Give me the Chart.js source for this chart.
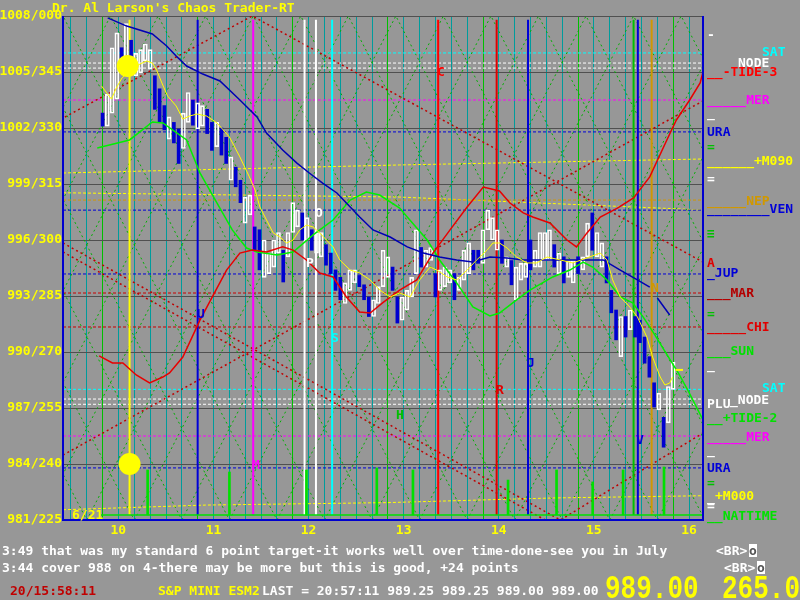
<!DOCTYPE html>
<html>
<head>
<meta charset="utf-8">
<title>Chaos Trader-RT</title>
<script src="https://cdn.jsdelivr.net/npm/chart.js@4.4.1/dist/chart.umd.min.js"></script>
<style>
  html, body { margin: 0; padding: 0; background: #979797; }
  #wrap { position: relative; width: 800px; height: 600px; overflow: hidden; background: #979797; }
  #c { position: absolute; left: 0; top: 0; }
  .t { position: absolute; font: bold 13px "DejaVu Sans Mono", "Liberation Mono", monospace; line-height: 13px; white-space: pre; }
  .big { position: absolute; font: bold 26px "Liberation Mono", "DejaVu Sans Mono", monospace; line-height: 26px; color: #ffff00;
         white-space: pre; transform: scaleY(1.3); transform-origin: 0 0; }
  .box { background: #ffffff; color: #555; }
</style>
</head>
<body>
<div id="wrap">
  <canvas id="c" width="800" height="600"></canvas>
</div>
<script>
// ==================== DATA ====================
const yTickValues = [981, 984, 987, 990, 993, 996, 999, 1002, 1005, 1008];
const yTickLabels = ['981/225', '984/240', '987/255', '990/270', '993/285', '996/300', '999/315', '1002/330', '1005/345', '1008/000'];
const xHours = [10, 11, 12, 13, 14, 15, 16];
const xHourLabels = ['10', '11', '12', '13', '14', '15', '16'];

// 3 minute bars, first one at 9:55
const BAR_START = 9.916;
const BAR_STEP = 0.05;
const barLow = [
  1002.1, 1002.1, 1002.8, 1003.55, 1005.3, 1005.3, 1005.1, 1004.8, 1004.95, 1005.6,
  1005.15, 1003.0, 1002.3, 1001.9, 1001.4, 1001.2, 1000.1, 1000.9, 1002.3, 1002.15,
  1001.95, 1002.1, 1001.7, 1000.8, 1001.0, 1000.55, 1000.1, 999.2, 998.85, 998.0,
  996.9, 997.35, 995.45, 994.4, 994.0, 994.2, 994.55, 995.3, 993.75, 995.1,
  996.4, 996.7, 996.0, 996.0, 995.45, 995.3, 995.1, 994.65, 994.2, 993.3,
  992.8, 992.6, 993.3, 993.7, 993.5, 992.8, 991.9, 991.9, 992.6, 993.5,
  994.0, 993.3, 991.55, 991.7, 992.25, 992.95, 994.2, 994.55, 994.55, 994.9,
  992.95, 993.3, 993.5, 993.7, 992.8, 993.3, 993.85, 994.2, 994.4, 994.75,
  994.75, 996.55, 996.0, 995.45, 994.75, 994.55, 993.6, 992.8, 993.85, 994.0,
  994.4, 994.55, 994.55, 994.9, 994.9, 994.55, 994.2, 993.7, 994.0, 993.7,
  994.2, 994.4, 995.1, 995.45, 995.1, 994.55, 993.7, 992.1, 990.65, 989.75,
  990.8, 991.2, 990.8, 990.5, 989.4, 988.65, 987.05, 986.9, 984.9, 986.2,
  988.0
];
const barHigh = [
  1002.8, 1003.8, 1006.3, 1007.1, 1006.3, 1007.6, 1006.7, 1006.0, 1006.2, 1006.5,
  1006.2, 1004.8, 1004.1, 1003.2, 1002.6, 1002.3, 1001.95, 1002.8, 1003.9, 1003.5,
  1003.35, 1003.2, 1003.0, 1002.3, 1002.3, 1002.0, 1001.5, 1000.45, 999.9, 999.2,
  998.3, 998.4, 996.7, 996.55, 996.0, 995.3, 996.0, 996.4, 995.45, 996.4,
  998.0, 997.6, 997.45, 997.2, 996.55, 996.4, 996.4, 995.75, 995.3, 994.4,
  994.0, 993.7, 994.4, 994.4, 994.1, 993.6, 992.95, 992.8, 993.5, 995.45,
  995.1, 994.55, 992.95, 992.95, 993.3, 994.0, 996.55, 995.6, 995.45, 995.6,
  994.2, 994.4, 994.55, 994.4, 994.2, 994.0, 995.45, 995.85, 995.45, 995.45,
  996.55, 997.6, 997.2, 996.55, 996.0, 995.1, 994.9, 994.55, 994.75, 994.75,
  996.0, 995.45, 996.4, 996.4, 996.55, 995.75, 995.3, 995.1, 994.9, 994.9,
  995.1, 995.1, 996.9, 997.45, 996.4, 995.85, 995.1, 993.3, 992.25, 991.9,
  991.9, 992.25, 991.9, 991.7, 990.8, 989.75, 988.35, 987.8, 986.5, 988.15,
  989.45
];
// 1 = up bar (white), 0 = down bar (blue)
const barUp = [
  0, 1, 1, 1, 0, 1, 0, 1, 1, 1,
  1, 0, 0, 0, 1, 0, 0, 1, 1, 0,
  1, 1, 0, 0, 1, 0, 0, 1, 0, 0,
  1, 1, 0, 0, 1, 1, 1, 1, 0, 1,
  1, 1, 0, 1, 0, 1, 1, 0, 0, 0,
  0, 1, 1, 1, 0, 0, 0, 1, 1, 1,
  1, 0, 0, 1, 1, 1, 1, 0, 1, 1,
  0, 1, 1, 1, 0, 1, 1, 1, 0, 0,
  1, 1, 1, 1, 0, 1, 0, 1, 1, 1,
  0, 1, 1, 1, 1, 0, 1, 0, 1, 1,
  0, 1, 1, 0, 1, 1, 0, 0, 0, 1,
  0, 1, 0, 0, 0, 0, 0, 1, 0, 1,
  1
];

// slow moving average (blue)
const slowMaTimes = [9.97, 10.17, 10.44, 10.59, 10.69, 10.8, 10.97, 11.15, 11.36, 11.54, 11.64, 11.81, 11.96, 12.09, 12.23, 12.38, 12.48,
  12.62, 12.76, 12.94, 13.12, 13.29, 13.46, 13.64, 13.81, 13.99, 14.17, 14.34, 14.65, 15.01, 15.18, 15.36, 15.54, 15.67, 15.69, 15.75, 15.88];
const slowMaValues = [1007.9, 1007.46, 1007.04, 1006.39, 1005.86, 1005.32, 1004.89, 1004.52, 1003.5, 1002.59, 1001.73, 1000.82, 1000.12, 999.59, 999.05, 998.52, 997.98,
  997.23, 996.54, 996.16, 995.63, 995.3, 995.09, 994.93, 994.82, 995.09, 995.04, 994.93, 994.93, 994.93, 994.93, 994.39, 993.86, 993.48, null, 992.89, 991.98];

// fast moving average (yellow)
const fastMaTimes = [9.905, 9.96, 10.01, 10.06, 10.12, 10.2, 10.31, 10.38, 10.44, 10.48, 10.54, 10.6, 10.69, 10.76, 10.83, 10.91, 11.01, 11.12,
  11.25, 11.36, 11.46, 11.52, 11.57, 11.64, 11.71, 11.78, 11.85, 11.92, 11.99, 12.06, 12.13, 12.2, 12.27, 12.34, 12.41, 12.52, 12.62, 12.73,
  12.83, 12.94, 13.04, 13.15, 13.25, 13.36, 13.43, 13.54, 13.64, 13.75, 13.85, 13.96, 14.02, 14.09, 14.17, 14.27, 14.38, 14.48, 14.59, 14.73,
  14.86, 15.01, 15.15, 15.22, 15.28, 15.36, 15.46, 15.54, 15.64, 15.7, 15.78, 15.83, 15.88, 15.91];
const fastMaValues = [1004.25, 1003.88, 1003.55, 1004.14, 1004.68, 1005.05, 1005.43, 1005.59, 1005.48, 1005.16, 1004.41, 1003.71, 1003.18, 1002.48, 1002.64, 1002.75, 1002.64, 1002.27,
  1001.52, 1000.45, 999.38, 998.68, 997.77, 997.07, 996.38, 996.16, 995.84, 996.0, 996.54, 996.8, 996.7, 996.38, 996.0, 995.63, 994.93, 994.39, 994.23, 993.86,
  993.32, 992.95, 993.16, 992.95, 993.86, 994.55, 994.39, 994.02, 993.86, 994.39, 994.93, 995.46, 995.84, 995.84, 995.57, 995.09, 994.77, 994.77, 995.09, 994.93,
  994.77, 995.04, 995.3, 994.93, 993.86, 992.95, 992.41, 991.88, 990.8, 989.73, 988.66, 988.23, 988.34, 988.66];
const lastTickTimes = [15.94, 16.02];
const lastTickValues = [989.04, 989.04];

// green cycle line
const greenTimes = [9.86, 10.2, 10.44, 10.55, 10.8, 10.94, 11.12, 11.28, 11.43, 11.54, 11.75, 11.92, 12.13, 12.34, 12.52, 12.69, 12.83, 13.04,
  13.12, 13.33, 13.46, 13.64, 13.81, 13.99, 14.09, 14.27, 14.41, 14.65, 14.83, 14.97, 15.07, 15.22, 15.36, 15.49, 15.6, 15.71, 15.82, 15.97, 16.07, 16.23];
const greenValues = [1000.93, 1001.36, 1002.32, 1002.27, 1001.36, 999.59, 997.98, 996.54, 995.57, 995.36, 995.2, 995.36, 996.27, 997.07, 998.14, 998.57, 998.41, 997.71,
  997.23, 996.0, 994.93, 993.7, 992.41, 991.93, 992.09, 992.79, 993.32, 994.02, 994.39, 994.82, 994.55, 993.86, 992.95, 992.63, 991.88, 991.02, 990.11, 988.88, 987.96, 986.36];

// red cycle line
const redTimes = [9.88, 10.02, 10.13, 10.27, 10.41, 10.55, 10.62, 10.76, 10.94, 11.07, 11.22, 11.36, 11.49, 11.64, 11.81, 11.92, 12.06, 12.2,
  12.34, 12.48, 12.62, 12.73, 12.86, 13.04, 13.22, 13.39, 13.57, 13.75, 13.92, 14.09, 14.2, 14.34, 14.44, 14.62, 14.8, 14.9, 15.01, 15.15,
  15.33, 15.5, 15.67, 15.85, 15.95, 16.09, 16.2, 16.23];
const redValues = [989.79, 989.41, 989.41, 988.77, 988.34, 988.66, 988.88, 989.73, 991.71, 992.95, 994.39, 995.3, 995.46, 995.36, 995.63, 995.46, 994.93, 994.23,
  994.02, 992.95, 992.14, 992.09, 992.63, 993.32, 993.86, 995.3, 996.54, 997.77, 998.84, 998.63, 997.98, 997.45, 997.23, 996.91, 996.0, 995.63, 996.38, 997.23,
  997.71, 998.25, 999.38, 1001.36, 1002.43, 1003.5, 1004.41, 1005.0];

// planet levels (flat dotted lines)
const levelNames = ['SAT', 'NODE', 'NODE', 'MER', 'URA', 'NEP', 'VEN', 'JUP', 'MAR', 'CHI', 'SAT', 'NODE', 'NODE', 'MER', 'URA'];
const levelValues = [1006.02, 1005.48, 1005.21, 1003.5, 1001.79, 998.14, 997.6, 994.18, 993.16, 991.34, 988.0, 987.48, 987.2, 985.5, 983.79];

// sloping yellow levels
const m090Times = [9.5, 13.04, 16.23];
const m090Values = [999.59, 1000.02, 1000.34];
const m090bTimes = [9.5, 13.04, 16.23];
const m090bValues = [998.53, 998.3, 997.61];
const m000Times = [9.5, 11.0, 12.9, 14.65, 16.23];
const m000Values = [981.55, 981.8, 981.93, 982.18, 982.3];

// red dotted tide lines
const tideATimes = [9.5, 14.73, 16.23];
const tideAValues = [995.84, 981.0, 985.66];
const tideBTimes = [9.5, 14.57];
const tideBValues = [995.36, 981.0];
const tideCTimes = [9.5, 16.23];
const tideCValues = [984.48, 1003.45];
const tideDTimes = [9.52, 11.49, 16.23];
const tideDValues = [1002.59, 1008.0, 994.82];

// green time lattice apexes (top of chart)
const latticeApex = [6.5, 7, 7.5, 8, 8.5, 9, 9.5, 10, 10.5, 11, 11.5, 12, 12.5, 13, 13.5, 14, 14.5, 15, 15.5, 16, 16.5, 17, 17.5, 18, 18.5, 19];
const LATTICE_SPAN = 2.75;

// special time lines
const timeLineTimes = [10.2, 10.916, 11.5, 12.04, 12.16, 12.33, 13.445, 14.06, 14.39, 15.5, 15.545, 15.69];
const TIME_LINE_TOP = 1007.8;
const TIME_LINE_BOTTOM = 981.27;

// NATTIME spikes
const spikeTimes = [10.39, 11.25, 12.06, 12.8, 13.18, 14.18, 14.69, 15.07, 15.39, 15.82];
const spikeValues = [983.68, 983.57, 983.68, 983.79, 983.68, 983.14, 983.68, 983.04, 983.68, 983.84];
const NATTIME_BASE = 981.27;

// sun markers
const sunTimes = [10.18, 10.2];
const sunValues = [1005.32, 984.0];

// ==================== STYLES ====================
const levelColors = ['#00ffff', '#ffffff', '#ffffff', '#ff00ff', '#0000d8', '#d09800', '#0000d8', '#0000d8', '#c80000', '#c80000',
  '#00ffff', '#ffffff', '#ffffff', '#ff00ff', '#0000d8'];
const timeLineColors = ['#ffff00', '#0000d8', '#ff00ff', '#ffffff', '#ffffff', '#00ffff', '#ff0000', '#e00000', '#0000d8', '#00c000', '#0000d8', '#d09800'];

const FONT = '"DejaVu Sans Mono", "Liberation Mono", monospace';

// ==================== HELPERS ====================
function pts(ts, vs) {
  return ts.map((t, i) => ({ x: t, y: vs[i] }));
}

function lineDs(data, color, extra) {
  return Object.assign({
    type: 'line', data, borderColor: color, borderWidth: 1, pointRadius: 0,
    tension: 0, fill: false, spanGaps: false
  }, extra || {});
}

const datasets = [];

// lattice
const latticePts = [];
latticeApex.forEach(a => {
  latticePts.push({ x: a - LATTICE_SPAN, y: 981 }, { x: a, y: 1008 }, { x: a + LATTICE_SPAN, y: 981 }, { x: a + LATTICE_SPAN, y: null });
});
datasets.push(lineDs(latticePts, '#00b000', { borderDash: [2, 3], order: 20 }));

// levels
levelValues.forEach((v, i) => {
  datasets.push(lineDs(pts([9.5, 16.23], [v, v]), levelColors[i], { borderDash: [3, 2], order: 18 }));
});
datasets.push(lineDs(pts(m090Times, m090Values), '#ffff00', { borderDash: [3, 2], order: 18 }));
datasets.push(lineDs(pts(m090bTimes, m090bValues), '#ffff00', { borderDash: [3, 2], order: 18 }));
datasets.push(lineDs(pts(m000Times, m000Values), '#ffff00', { borderDash: [3, 2], order: 18 }));

// tide lines
[[tideATimes, tideAValues], [tideBTimes, tideBValues], [tideCTimes, tideCValues], [tideDTimes, tideDValues]].forEach(([t, v]) => {
  datasets.push(lineDs(pts(t, v), '#c00000', { borderDash: [2, 3], borderWidth: 1.5, order: 17 }));
});

// special time lines
timeLineTimes.forEach((t, i) => {
  datasets.push(lineDs(pts([t, t], [TIME_LINE_BOTTOM, TIME_LINE_TOP]), timeLineColors[i], { borderWidth: 2, order: 16 }));
});

// nattime
datasets.push(lineDs(pts([9.9, 16.23], [NATTIME_BASE, NATTIME_BASE]), '#00e000', { borderWidth: 1.5, order: 15 }));
datasets.push({
  type: 'bar', data: spikeTimes.map((t, i) => ({ x: t, y: [NATTIME_BASE, spikeValues[i]] })),
  backgroundColor: '#00e000', barThickness: 2, grouped: false, order: 15
});

// price bars
const upBars = [], downBars = [];
barLow.forEach((lo, i) => {
  const p = { x: BAR_START + i * BAR_STEP, y: [lo, barHigh[i]] };
  (barUp[i] ? upBars : downBars).push(p);
});
datasets.push({ type: 'bar', data: downBars, backgroundColor: '#0000d0', barThickness: 3, grouped: false, order: 6 });
datasets.push({ type: 'bar', data: upBars, backgroundColor: 'rgba(0,0,0,0)', borderColor: '#ffffff', borderWidth: 1,
  borderSkipped: false, barThickness: 4, grouped: false, order: 5 });

// curves
datasets.push(lineDs(pts(slowMaTimes, slowMaValues), '#0000b4', { borderWidth: 1.5, order: 4 }));
datasets.push(lineDs(pts(redTimes, redValues), '#e80000', { borderWidth: 1.5, order: 4 }));
datasets.push(lineDs(pts(greenTimes, greenValues), '#00f000', { borderWidth: 1.5, order: 4 }));
datasets.push(lineDs(pts(fastMaTimes, fastMaValues), '#ffff00', { borderWidth: 1, order: 3 }));
datasets.push(lineDs(pts(lastTickTimes, lastTickValues), '#ffff00', { borderWidth: 2, order: 3 }));

// suns
datasets.push(lineDs(pts(sunTimes, sunValues), '#ffff00', {
  showLine: false, pointRadius: 11, pointBackgroundColor: '#ffff00', pointBorderWidth: 0, order: 1
}));

// ==================== FRAME PLUGIN ====================
const framePlugin = {
  id: 'frame',
  afterDatasetsDraw(chart) {
    const { ctx, chartArea: a } = chart;
    ctx.save();
    ctx.strokeStyle = '#0000d0';
    ctx.lineWidth = 2;
    ctx.beginPath();
    ctx.moveTo(a.left, a.top);
    ctx.lineTo(a.left, a.bottom);
    ctx.lineTo(a.right, a.bottom);
    ctx.lineTo(a.right, a.top);
    ctx.stroke();
    ctx.restore();
  }
};

// ==================== CHART ====================
const gridTimes = [];
for (let m = 570; m <= 970; m += 10) gridTimes.push(m / 60);

new Chart(document.getElementById('c'), {
  type: 'line',
  data: { datasets },
  options: {
    responsive: false,
    devicePixelRatio: 1,
    animation: false,
    events: [],
    layout: { padding: { left: 0, top: 16, right: 97, bottom: 0 } },
    plugins: { legend: { display: false }, tooltip: { enabled: false } },
    scales: {
      x: {
        type: 'linear', min: 9.5, max: 16.23, offset: false,
        afterBuildTicks: s => { s.ticks = gridTimes.map(v => ({ value: v })); },
        afterFit: s => { s.height = 80; },
        ticks: {
          color: '#ffff00', align: 'start', autoSkip: false, maxRotation: 0, minRotation: 0, padding: 3,
          font: { family: FONT, size: 13, weight: 'bold' },
          callback: v => {
            const i = xHours.findIndex(h => Math.abs(h - v) < 1e-6);
            return i >= 0 ? xHourLabels[i] : '';
          }
        },
        grid: {
          drawTicks: false,
          color: c => {
            const v = c.tick ? c.tick.value : 0;
            return Math.abs(v - Math.round(v)) < 1e-6 ? '#00c000' : '#009c9c';
          }
        },
        border: { display: false }
      },
      y: {
        type: 'linear', min: 981, max: 1008,
        afterBuildTicks: s => { s.ticks = yTickValues.map(v => ({ value: v })); },
        afterFit: s => { s.width = 63; },
        ticks: {
          color: '#ffff00', padding: 1,
          font: { family: FONT, size: 13, weight: 'bold' },
          callback: v => yTickLabels[yTickValues.indexOf(v)]
        },
        grid: { drawTicks: false, color: '#505050' },
        border: { display: false }
      }
    }
  },
  plugins: [framePlugin]
});

// ==================== TEXT OVERLAYS ====================
const wrap = document.getElementById('wrap');
function addText(x, y, text, color, cls) {
  const d = document.createElement('div');
  d.className = cls || 't';
  d.style.left = x + 'px';
  d.style.top = y + 'px';
  if (color) d.style.color = color;
  d.textContent = text;
  wrap.appendChild(d);
  return d;
}

addText(52, 1, "Dr. Al Larson's Chaos Trader-RT", '#ffff00');

// markers in the chart
[
  [197, 307, 'U', '#0000d8'], [315, 206, 'O', '#ffffff'], [306, 256, 'P', '#ffffff'], [331, 331, 'S', '#00ffff'],
  [252, 458, 'M', '#ff00ff'], [396, 408, 'H', '#00c000'], [437, 65, 'C', '#ff0000'], [496, 383, 'R', '#e00000'],
  [527, 356, 'J', '#0000d8'], [636, 433, 'V', '#0000d8'], [651, 281, 'N', '#d09800'], [72, 508, '6/21', '#ffff00']
].forEach(l => addText(l[0], l[1], l[2], l[3]));

// right panel
[
  [707, 28, '-', '#ffffff'], [762, 45, 'SAT', '#00ffff'], [738, 56, 'NODE', '#ffffff'], [707, 65, '__-TIDE-3', '#ff0000'],
  [707, 93, '_____MER', '#ff00ff'], [707, 106, '_', '#ffffff'], [707, 125, 'URA', '#0000d8'], [707, 140, '=', '#00c000'],
  [707, 154, '______+M090', '#ffff00'], [707, 172, '=', '#ffffff'], [707, 194, '_____NEP', '#d09800'],
  [707, 202, '________VEN', '#0000d8'], [707, 227, '\u2261', '#00c000'], [707, 256, 'A', '#e00000'],
  [707, 266, '_JUP', '#0000d8'], [707, 286, '___MAR', '#b40000'], [707, 307, '=', '#00c000'],
  [707, 320, '_____CHI', '#e00000'], [707, 344, '___SUN', '#00e000'], [707, 358, '_', '#ffffff'],
  [762, 381, 'SAT', '#00ffff'], [707, 397, 'PLU', '#ffffff'], [730, 393, '_NODE', '#ffffff'],
  [707, 411, '__+TIDE-2', '#00e000'], [707, 430, '_____MER', '#ff00ff'], [707, 443, '_', '#ffffff'],
  [707, 461, 'URA', '#0000d8'], [707, 476, '=', '#00c000'], [707, 490, '_', '#ffffff'], [715, 489, '+M000', '#ffff00'],
  [707, 499, '=', '#ffffff'], [707, 509, '__NATTIME', '#00e000']
].forEach(l => addText(l[0], l[1], l[2], l[3]));

// message lines
addText(2, 544, '3:49 that was my standard 6 point target-it works well over time-done-see you in July', '#ffffff');
addText(716, 544, '<BR>', '#ffffff');
addText(749, 544, 'o', null, 't box');
addText(2, 561, '3:44 cover 988 on 4-there may be more but this is good, +24 points', '#ffffff');
addText(724, 561, '<BR>', '#ffffff');
addText(757, 561, 'o', null, 't box');

// status line
addText(10, 584, '20/15:58:11', '#c00000');
addText(158, 584, 'S&P MINI ESM2', '#ffff00');
addText(262, 584, 'LAST = 20:57:11 989.25 989.25 989.00 989.00', '#ffffff');
addText(605, 572, '989.00', null, 'big');
addText(722, 572, '265.0', null, 'big');
</script>
</body>
</html>
